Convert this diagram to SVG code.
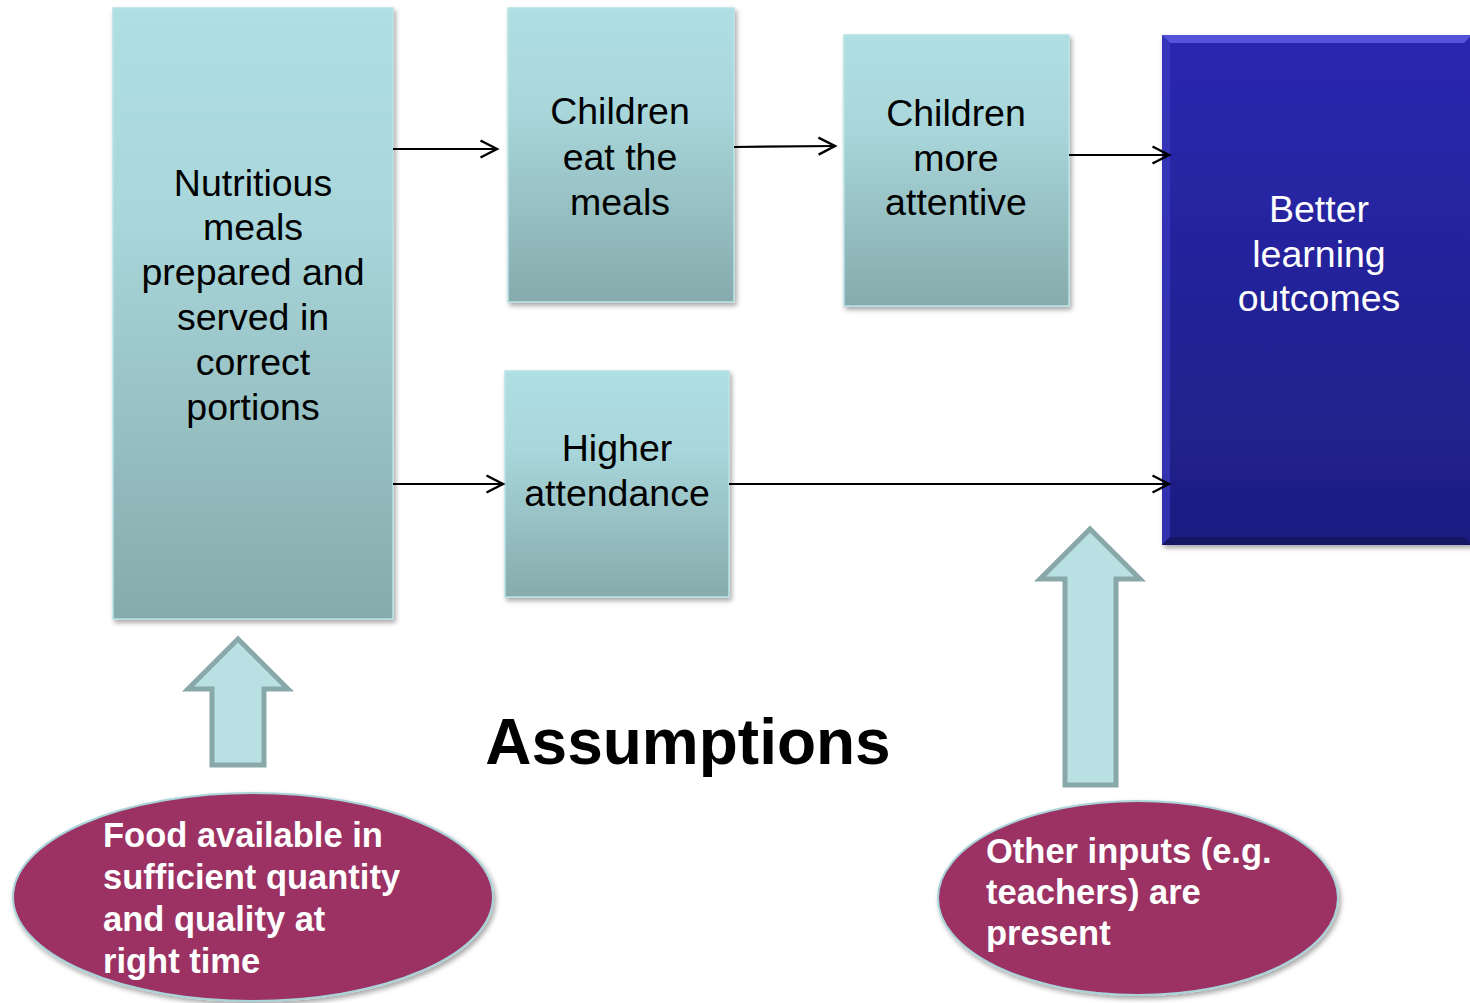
<svg xmlns="http://www.w3.org/2000/svg" width="1470" height="1003" viewBox="0 0 1470 1003">
  <defs>
    <linearGradient id="tealGrad" x1="0" y1="0" x2="0" y2="1">
      <stop offset="0" stop-color="#b0dfe3"/>
      <stop offset="0.35" stop-color="#a8d6da"/>
      <stop offset="1" stop-color="#86abac"/>
    </linearGradient>
    <linearGradient id="blueGrad" x1="0" y1="0" x2="0" y2="1">
      <stop offset="0" stop-color="#2a28b0"/>
      <stop offset="1" stop-color="#1e1e82"/>
    </linearGradient>
    <filter id="shadow" x="-10%" y="-10%" width="125%" height="125%">
      <feDropShadow dx="2" dy="3" stdDeviation="2.5" flood-color="#000" flood-opacity="0.35"/>
    </filter>
    <marker id="openArrow" markerWidth="22" markerHeight="22" refX="18" refY="10" orient="auto" markerUnits="userSpaceOnUse">
      <path d="M1.5,1.5 L18,10 L1.5,18.5" fill="none" stroke="#000" stroke-width="2.4"/>
    </marker>
    <style>
      .box { fill: url(#tealGrad); stroke: #b8e2e6; stroke-width: 1.5; filter: url(#shadow); }
      .label { font-family: "Liberation Sans", Arial, sans-serif; font-size: 37.5px; fill: #000; text-anchor: middle; }
      .white { fill: #fff; }
      .oval { fill: #9b3263; stroke: #a9d3d8; stroke-width: 2; filter: url(#shadow); }
      .ovalText { font-family: "Liberation Sans", Arial, sans-serif; font-weight: bold; font-size: 34.5px; fill: #fff; }
      .bigArrow { fill: #b9e0e3; stroke: #89a8aa; stroke-width: 5; }
      .conn { stroke: #000; stroke-width: 2.2; fill: none; marker-end: url(#openArrow); }
    </style>
  </defs>

  <rect width="1470" height="1003" fill="#fff"/>

  <!-- boxes -->
  <g id="node-meals">
    <rect class="box" x="113" y="8" width="280" height="611"/>
    <text class="label" x="253" y="196">Nutritious</text>
    <text class="label" x="253" y="240">meals</text>
    <text class="label" x="253" y="285">prepared and</text>
    <text class="label" x="253" y="330">served in</text>
    <text class="label" x="253" y="375">correct</text>
    <text class="label" x="253" y="420">portions</text>
  </g>

  <g id="node-eat">
    <rect class="box" x="508" y="8" width="226" height="294"/>
    <text class="label" x="620" y="124">Children</text>
    <text class="label" x="620" y="170">eat the</text>
    <text class="label" x="620" y="215">meals</text>
  </g>

  <g id="node-attentive">
    <rect class="box" x="844" y="35" width="225" height="271"/>
    <text class="label" x="956" y="126">Children</text>
    <text class="label" x="956" y="171">more</text>
    <text class="label" x="956" y="215">attentive</text>
  </g>

  <g id="node-attendance">
    <rect class="box" x="505" y="371" width="224" height="226"/>
    <text class="label" x="617" y="461">Higher</text>
    <text class="label" x="617" y="506">attendance</text>
  </g>

  <g id="node-outcomes">
    <rect x="1162" y="35" width="310" height="510" fill="url(#blueGrad)" filter="url(#shadow)"/>
    <!-- bevel edges -->
    <polygon points="1162,35 1472,35 1464,43 1170,43" fill="#5c5ce0" opacity="0.85"/>
    <polygon points="1162,35 1170,43 1170,537 1162,545" fill="#3a3ac0" opacity="0.7"/>
    <polygon points="1162,545 1170,537 1464,537 1472,545" fill="#15155e" opacity="0.8"/>
    <text class="label white" x="1319" y="222">Better</text>
    <text class="label white" x="1319" y="267">learning</text>
    <text class="label white" x="1319" y="311">outcomes</text>
  </g>

  <!-- connectors -->
  <g id="connectors">
    <line class="conn" x1="393" y1="149" x2="497" y2="149"/>
    <line class="conn" x1="734" y1="147" x2="835" y2="146"/>
    <line class="conn" x1="1069" y1="155" x2="1169" y2="155"/>
    <line class="conn" x1="393" y1="484" x2="503" y2="484"/>
    <line class="conn" x1="729" y1="484" x2="1169" y2="484"/>
  </g>

  <!-- assumption arrows -->
  <g id="arrow-food">
    <polygon class="bigArrow" points="238,639 288,689 264,689 264,765 212,765 212,689 188,689"/>
  </g>
  <g id="arrow-inputs">
    <polygon class="bigArrow" points="1090,529 1140,579 1116,579 1116,785 1065,785 1065,579 1040,579"/>
  </g>

  <g id="title">
    <text x="688" y="764" font-family="Liberation Sans, Arial, sans-serif" font-weight="bold" font-size="64" fill="#000" text-anchor="middle">Assumptions</text>
  </g>

  <!-- assumption ovals -->
  <g id="node-food">
    <ellipse class="oval" cx="253" cy="897" rx="240" ry="104"/>
    <text class="ovalText" x="103" y="847">Food available in</text>
    <text class="ovalText" x="103" y="889">sufficient quantity</text>
    <text class="ovalText" x="103" y="931">and quality at</text>
    <text class="ovalText" x="103" y="973">right time</text>
  </g>

  <g id="node-inputs">
    <ellipse class="oval" cx="1138" cy="898" rx="200" ry="97"/>
    <text class="ovalText" x="986" y="863">Other inputs (e.g.</text>
    <text class="ovalText" x="986" y="904">teachers) are</text>
    <text class="ovalText" x="986" y="945">present</text>
  </g>
</svg>
